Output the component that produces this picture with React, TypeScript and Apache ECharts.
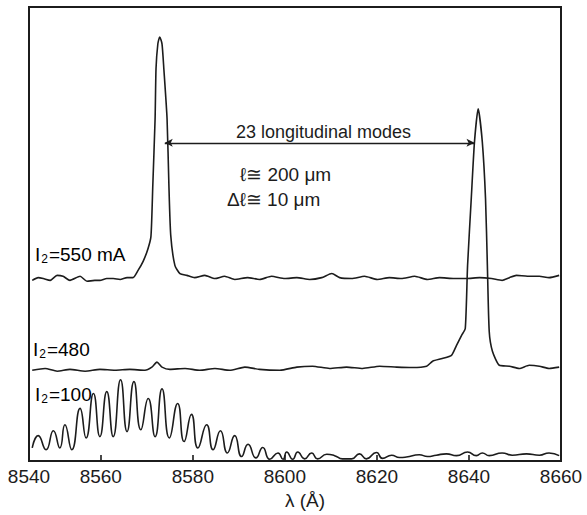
import React, { useEffect, useRef } from "react";
import * as echarts from "echarts";

const trace550: [number, number][] = [
  [8545.1, 39.8], [8546.4, 40.4], [8547.5, 40.2], [8549.0, 39.8], [8550.5, 40.9],
  [8551.8, 40.7], [8553.3, 39.8], [8555.5, 40.7], [8557.0, 39.6], [8558.7, 39.8],
  [8559.8, 39.8], [8561.3, 40.2], [8562.7, 40.2], [8564.2, 40.0], [8565.7, 40.4],
  [8567.0, 40.4], [8568.1, 42.0], [8569.2, 44.0], [8570.2, 46.6], [8570.9, 49.5],
  [8571.3, 60.7], [8571.8, 75.4], [8572.0, 86.4], [8572.4, 91.9], [8572.8, 93.4],
  [8573.3, 91.9], [8573.7, 86.4], [8574.4, 75.4], [8574.8, 60.7], [8575.2, 49.7],
  [8576.1, 43.1], [8577.2, 41.3], [8578.7, 40.9], [8580.4, 40.4], [8582.6, 40.9],
  [8584.8, 40.2], [8586.9, 40.7], [8589.1, 40.0], [8591.9, 40.4], [8594.5, 40.0],
  [8597.1, 40.7], [8600.0, 40.2], [8602.6, 40.4], [8605.4, 40.0], [8608.0, 40.4],
  [8610.2, 41.3], [8611.9, 40.4], [8614.5, 40.2], [8617.3, 40.7], [8620.1, 40.0],
  [8622.7, 40.4], [8625.3, 40.2], [8628.2, 40.7], [8631.0, 40.0], [8633.6, 40.4],
  [8636.8, 40.2], [8639.4, 40.2], [8642.3, 40.4], [8644.9, 40.2], [8647.2, 39.8],
  [8648.8, 40.4], [8650.3, 40.9], [8652.7, 40.7], [8655.3, 40.7], [8657.4, 40.4],
  [8659.6, 40.9],
];

const trace480: [number, number][] = [
  [8545.1, 20.0], [8547.9, 20.4], [8550.5, 19.8], [8553.3, 20.2], [8556.6, 19.8],
  [8559.8, 20.2], [8563.1, 20.0], [8566.3, 20.2], [8569.6, 20.0], [8571.1, 20.7],
  [8572.2, 21.8], [8573.3, 20.7], [8575.0, 20.2], [8578.3, 20.4], [8581.5, 20.0],
  [8584.8, 20.4], [8588.0, 20.0], [8591.3, 20.7], [8594.5, 20.2], [8598.9, 20.0],
  [8602.6, 20.7], [8606.0, 20.9], [8609.7, 20.4], [8613.4, 20.7], [8616.9, 20.4],
  [8620.6, 20.9], [8624.3, 20.7], [8627.7, 20.6], [8630.8, 20.9], [8632.1, 22.0],
  [8634.2, 22.6], [8636.2, 23.3], [8637.3, 25.5], [8638.4, 27.7], [8639.2, 29.2],
  [8639.7, 43.1], [8640.5, 57.8], [8641.2, 70.3], [8642.0, 77.6], [8642.9, 70.3],
  [8643.6, 57.8], [8644.0, 43.1], [8644.4, 28.6], [8645.1, 24.2], [8646.6, 21.1],
  [8648.8, 20.9], [8650.9, 20.4], [8653.1, 21.1], [8655.3, 20.9], [8657.4, 20.4],
  [8659.6, 20.7],
];

const trace100: [number, number][] = [
  [8545.1, 2.9], [8546.4, 5.6], [8548.1, 2.5], [8549.7, 6.7], [8551.1, 2.9],
  [8552.2, 8.0], [8553.7, 2.5], [8555.5, 11.6], [8556.8, 5.1], [8558.4, 14.9],
  [8559.8, 5.4], [8561.3, 15.3], [8562.7, 5.4], [8564.3, 17.9], [8565.7, 6.5],
  [8567.2, 17.5], [8568.7, 6.9], [8570.3, 13.8], [8571.8, 5.4], [8573.3, 15.9],
  [8574.9, 5.1], [8576.7, 12.7], [8578.1, 4.3], [8579.7, 10.3], [8581.1, 2.9],
  [8583.0, 8.0], [8584.4, 2.5], [8586.0, 6.7], [8587.5, 1.8], [8589.1, 5.6],
  [8590.6, 1.0], [8592.0, 3.7], [8593.7, 0.7], [8595.2, 3.0], [8596.7, 0.4],
  [8598.5, 1.8], [8599.6, 0.4], [8600.4, 2.0], [8601.7, 0.4], [8602.8, 2.0],
  [8604.3, 0.5], [8605.8, 1.8], [8607.1, 0.5], [8609.1, 1.5], [8610.8, 1.2],
  [8612.5, 0.5], [8614.5, 0.5], [8616.2, 1.6], [8617.7, 0.5], [8619.9, 1.9],
  [8621.2, 0.6], [8623.2, 1.3], [8624.9, 0.8], [8626.4, 0.9], [8629.2, 1.4],
  [8631.0, 1.0], [8632.9, 1.3], [8635.1, 1.6], [8637.3, 1.2], [8639.7, 2.0],
  [8641.6, 1.2], [8642.9, 1.8], [8644.4, 1.2], [8647.2, 1.8], [8649.4, 1.3],
  [8652.5, 1.6], [8655.3, 1.3], [8657.4, 1.8], [8659.6, 1.2],
];

const xMin = 8544.4;
const xMax = 8660;
const tickValues = [8560, 8580, 8600, 8620, 8640];
const labelValues = [xMin, 8560, 8580, 8600, 8620, 8640, 8660];
const firstLabel = "8540";

// mode-spacing arrow: from the 550 mA peak to the 480 peak
const arrowFrom: [number, number] = [8573.9, 70.1];
const arrowTo: [number, number] = [8641.2, 70.1];

const INK = "#1c1c1c";
const FONT = "'Liberation Sans', Arial, sans-serif";

export default function App() {
  const ref = useRef<HTMLDivElement>(null);
  useEffect(() => {
    if (!ref.current) return;
    const chart = echarts.init(ref.current, undefined, { renderer: "svg" });
    const lineBase = {
      type: "line" as const,
      showSymbol: false,
      symbol: "none",
      lineStyle: { color: INK, width: 1.6 },
      z: 3,
    };
    const rich = {
      a: { fontSize: 19, fontFamily: FONT, color: INK, lineHeight: 23 },
      s: { fontSize: 12, fontFamily: FONT, color: INK, lineHeight: 23, padding: [10, 1, 0, 1] },
    };
    const note = { fontSize: 18, fontFamily: FONT, fill: INK };
    chart.setOption({
      animation: false,
      backgroundColor: "#ffffff",
      grid: {
        left: 29,
        right: 26,
        top: 7,
        bottom: 52,
        show: true,
        borderColor: INK,
        borderWidth: 2,
        backgroundColor: "transparent",
      },
      xAxis: {
        type: "value",
        min: xMin,
        max: xMax,
        name: "λ (Å)",
        nameLocation: "middle",
        nameGap: 23,
        nameTextStyle: { fontSize: 19, fontFamily: FONT, color: INK, padding: [0, 0, 0, 20] },
        axisLine: { show: true, lineStyle: { color: INK, width: 2 } },
        axisTick: {
          show: true,
          inside: true,
          length: 6,
          customValues: tickValues,
          lineStyle: { color: INK, width: 1.6 },
        },
        axisLabel: {
          show: true,
          customValues: labelValues,
          fontSize: 19,
          fontFamily: FONT,
          color: INK,
          margin: 6,
          formatter: (v: number) => (v < 8550 ? firstLabel : String(Math.round(v))),
        },
        splitLine: { show: false },
      },
      yAxis: {
        type: "value",
        min: 0,
        max: 100,
        axisLine: { show: false },
        axisTick: { show: false },
        axisLabel: { show: false },
        splitLine: { show: false },
      },
      series: [
        { ...lineBase, name: "550 mA", data: trace550, smooth: 0.2 },
        {
          ...lineBase,
          name: "480",
          data: trace480,
          smooth: 0.2,
          markLine: {
            silent: true,
            symbol: ["arrow", "arrow"],
            symbolSize: [6, 8],
            lineStyle: { color: INK, width: 1.3, type: "solid" },
            label: { show: false },
            data: [[{ coord: arrowFrom }, { coord: arrowTo }]],
          },
        },
        { ...lineBase, name: "100", data: trace100, smooth: 0.55 },
      ],
      graphic: [
        {
          type: "text",
          left: 35,
          top: 243,
          style: { text: "{a|I}{s|2}{a|=550 mA}", rich },
        },
        {
          type: "text",
          left: 33,
          top: 338,
          style: { text: "{a|I}{s|2}{a|=480}", rich },
        },
        {
          type: "text",
          left: 35,
          top: 383,
          style: { text: "{a|I}{s|2}{a|=100}", rich },
        },
        {
          type: "text",
          left: 236,
          top: 123,
          style: { text: "23 longitudinal modes", ...note },
        },
        {
          type: "text",
          left: 240,
          top: 165,
          style: { text: "ℓ≅ 200 μm", ...note, fontSize: 19 },
        },
        {
          type: "text",
          left: 227,
          top: 190,
          style: { text: "Δℓ≅ 10 μm", ...note, fontSize: 19 },
        },
      ],
    });
    return () => chart.dispose();
  }, []);
  return (
    <div
      ref={ref}
      style={{ position: "fixed", left: 0, top: 0, width: 587, height: 515, background: "#fff" }}
    />
  );
}
